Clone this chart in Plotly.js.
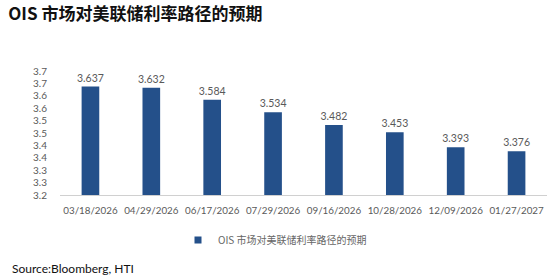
<!DOCTYPE html>
<html>
<head>
<meta charset="utf-8">
<script src="https://cdn.plot.ly/plotly-3.0.1.min.js"></script>
<style>html,body{margin:0;padding:0;background:#fff;}#c{width:550px;height:277px;}</style>
</head>
<body>
<div id="c"></div>
<script>
const dates = ["03/18/2026","04/29/2026","06/17/2026","07/29/2026","09/16/2026","10/28/2026","12/09/2026","01/27/2027"];
const values = [3.637, 3.632, 3.584, 3.534, 3.482, 3.453, 3.393, 3.376];
const tickVals = [3.2,3.25,3.3,3.35,3.4,3.45,3.5,3.55,3.6,3.65,3.7];
const tickText = ["3.2","3.3","3.3","3.4","3.4","3.5","3.5","3.6","3.6","3.7","3.7"];
const seriesName = "OIS 市场对美联储利率路径的预期";
const titleText = "OIS 市场对美联储利率路径的预期";
const sourceText = "Source:Bloomberg, HTI";

const barColor = "#24508A";
const grey = "#595959";

const bars = {
  type: "bar", x: dates, y: values, name: seriesName,
  marker: {color: barColor},
  text: values.map(v => v.toFixed(3)), textposition: "outside", constraintext: "none",
  textfont: {family: "Lato, 'Noto Sans', sans-serif", size: 10.5, color: grey},
  cliponaxis: false, showlegend: false
};
// legend entry (small square marker like the reference)
const legendEntry = {
  type: "scatter", mode: "markers", x: [null], y: [null], name: seriesName,
  marker: {symbol: "square", size: 7, color: barColor}, showlegend: true, hoverinfo: "skip"
};

const layout = {
  width: 550, height: 277,
  margin: {l: 60, r: 3, t: 71, b: 82},
  paper_bgcolor: "#fff", plot_bgcolor: "#fff",
  bargap: 0.71,
  title: {text: "<b>" + titleText + "</b>", x: 0.015, xanchor: "left", y: 0.95, yanchor: "middle",
          font: {family: "'Noto Sans CJK SC', sans-serif", size: 17, color: "#111"}},
  xaxis: {type: "category", showgrid: false, showline: true, linecolor: "#d0d0d0", linewidth: 1,
          ticks: "", tickangle: 0, automargin: false, ticklabelstandoff: 6,
          tickfont: {family: "Lato, 'Noto Sans', sans-serif", size: 9.8, color: grey}},
  yaxis: {range: [3.2, 3.7], tickvals: tickVals, ticktext: tickText, showgrid: false, zeroline: false,
          showline: false, ticks: "", ticklabelstandoff: 12,
          tickfont: {family: "Lato, 'Noto Sans', sans-serif", size: 10, color: grey}},
  showlegend: true,
  legend: {orientation: "h", x: 178/550, xanchor: "left", xref: "container", y: (277-240)/277, yanchor: "middle", yref: "container",
           font: {family: "'Noto Sans CJK SC', sans-serif", size: 10, color: "#666"},
           itemwidth: 30, tracegroupgap: 0},
  annotations: [{text: sourceText, xref: "paper", yref: "paper", x: -50/487, y: -(268-195)/124, xanchor: "left", yanchor: "middle",
                 showarrow: false, font: {family: "Lato, 'Noto Sans', sans-serif", size: 12, color: "#111"}}]
};

Plotly.newPlot("c", [bars, legendEntry], layout, {staticPlot: true, displayModeBar: false});
</script>
</body>
</html>
